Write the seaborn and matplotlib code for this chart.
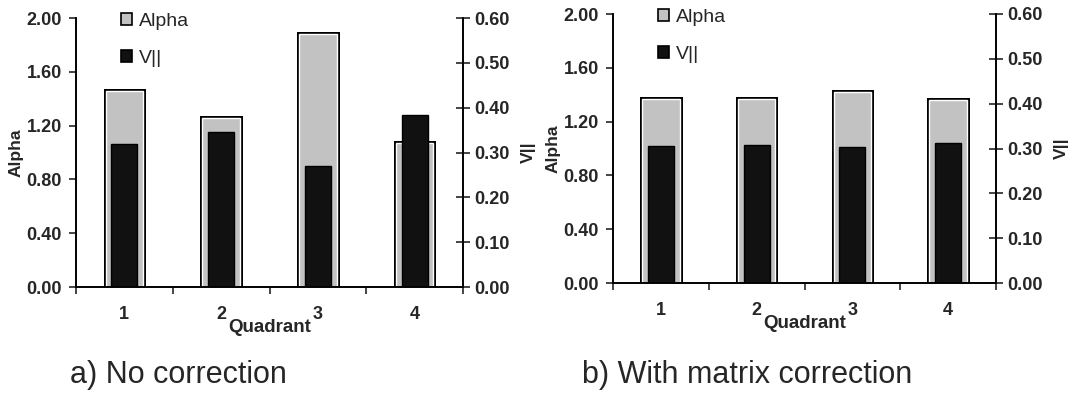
import numpy as np
import pandas as pd
import matplotlib
matplotlib.use("Agg")
import matplotlib.pyplot as plt
import matplotlib.patheffects as pe
from matplotlib.patches import Patch
import seaborn as sns

# Per-quadrant results
quadrants = ["1", "2", "3", "4"]
alpha_raw = [1.46, 1.26, 1.88, 1.07]
v_raw = [0.320, 0.346, 0.271, 0.384]
alpha_corr = [1.37, 1.37, 1.42, 1.36]
v_corr = [0.306, 0.307, 0.303, 0.312]
captions = ["a) No correction", "b) With matrix correction"]

alpha_ticks = [0.0, 0.4, 0.8, 1.2, 1.6, 2.0]
v_ticks = [0.0, 0.1, 0.2, 0.3, 0.4, 0.5, 0.6]

sns.set_style("white")
plt.rcParams["font.family"] = ["Liberation Sans", "DejaVu Sans"]

GRAY = "#c2c2c2"
DARK = "#111111"

fig = plt.figure(figsize=(10.73, 3.93), dpi=100)

# axes rectangles in figure fractions (left, bottom, width, height)
rects = [
    (76 / 1073, 1 - 287 / 393, 387 / 1073, 269 / 393),
    (613 / 1073, 1 - 283 / 393, 383 / 1073, 269 / 393),
]
caption_x = [70 / 1073, 582 / 1073]


def panel(rect, alpha_vals, v_vals, caption, cx):
    ax = fig.add_axes(rect)
    df = pd.DataFrame({"Quadrant": quadrants, "Alpha": alpha_vals, "V": v_vals})
    sns.barplot(data=df, x="Quadrant", y="Alpha", ax=ax, color=GRAY,
                width=0.39, edgecolor="white", linewidth=1.0, saturation=1)
    for p in ax.patches:
        p.set_path_effects([pe.Stroke(linewidth=3.6, foreground="black"), pe.Normal()])

    ax2 = ax.twinx()
    sns.barplot(data=df, x="Quadrant", y="V", ax=ax2, color=DARK,
                width=0.27, edgecolor="black", linewidth=1.0, saturation=1)

    for a in (ax, ax2):
        a.set_xlim(-0.5, 3.5)
        a.spines["top"].set_visible(False)
        for s in ("left", "right", "bottom"):
            a.spines[s].set_linewidth(1.2)
            a.spines[s].set_color("black")

    ax.set_ylim(0, 2.0)
    ax.set_yticks(alpha_ticks)
    ax.set_yticklabels([f"{t:.2f}" for t in alpha_ticks], fontsize=13, fontweight="bold")
    ax.tick_params(axis="y", direction="out", length=5, width=1.2, pad=5, left=True)

    ax2.set_ylim(0, 0.6)
    ax2.set_yticks(v_ticks)
    ax2.set_yticklabels([f"{t:.2f}" for t in v_ticks], fontsize=13, fontweight="bold")
    ax2.tick_params(axis="y", direction="inout", length=10, width=1.2, pad=3, right=True)

    # category labels centred, tick marks at the category boundaries
    ax.set_xticks(range(len(quadrants)))
    ax.set_xticklabels(quadrants, fontsize=13, fontweight="bold")
    ax.set_xticks(np.arange(-0.5, len(quadrants), 1.0), minor=True)
    ax.tick_params(axis="x", which="major", length=0, pad=14)
    ax.tick_params(axis="x", which="minor", direction="out", length=5, width=1.2, bottom=True)

    ax.set_xlabel("Quadrant", fontsize=13.5, fontweight="bold", labelpad=-3)
    ax.set_ylabel("Alpha", fontsize=12.5, fontweight="bold", labelpad=2)
    ax2.set_ylabel("V||", fontsize=12.5, fontweight="bold", labelpad=8, rotation=90)
    ax2.set_xlabel("")

    handles = [Patch(facecolor=GRAY, edgecolor="black", linewidth=1.2),
               Patch(facecolor=DARK, edgecolor="black", linewidth=1.2)]
    ax2.legend(handles, ["Alpha", "V||"], loc="upper left", bbox_to_anchor=(0.072, 1.085),
               frameon=False, fontsize=14, handlelength=0.55, handleheight=0.55,
               handletextpad=0.35, labelspacing=1.05)

    fig.text(cx, 1 - 383 / 393, caption, fontsize=22, va="baseline", ha="left")


panel(rects[0], alpha_raw, v_raw, captions[0], caption_x[0])
panel(rects[1], alpha_corr, v_corr, captions[1], caption_x[1])

fig.savefig("out.png", dpi=100, facecolor="white")
